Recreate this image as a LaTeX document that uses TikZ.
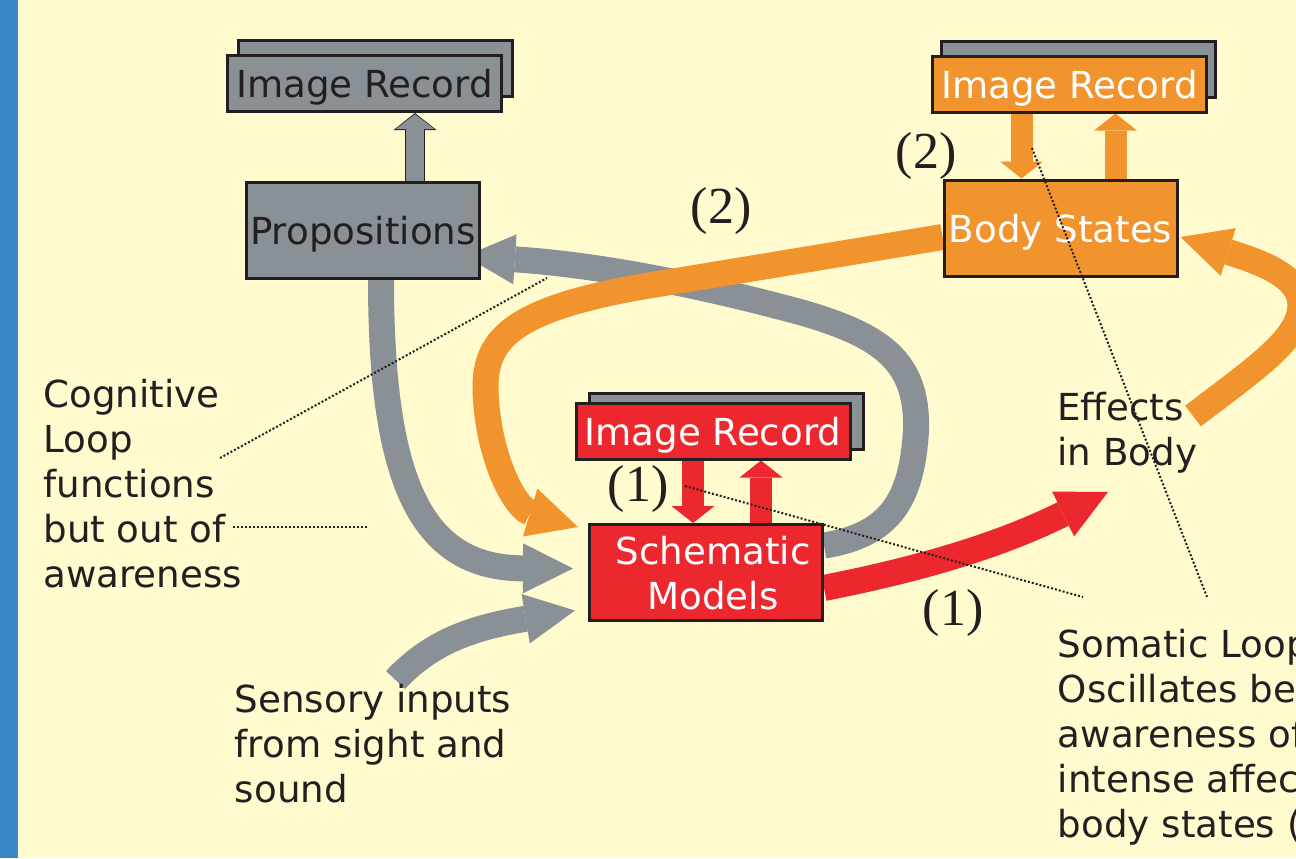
\documentclass[tikz,border=0pt]{standalone}
\usepackage{fontspec}
\setmainfont{DejaVu Sans}
\newfontfamily\numfont{Liberation Serif}
\usetikzlibrary{arrows.meta}

\pgfdeclarelayer{paper}
\pgfdeclarelayer{flows}
\pgfsetlayers{paper,flows,main}

\definecolor{bgyellow}{RGB}{255,251,206}
\definecolor{sidebar}{RGB}{58,135,200}
\definecolor{loopgray}{RGB}{137,144,150}
\definecolor{bodyorange}{RGB}{242,148,46}
\definecolor{schemred}{RGB}{236,40,46}
\definecolor{ink}{RGB}{35,31,32}

\newcommand\labelfont{\fontsize{18.6}{22.5}\selectfont}
\newcommand\tagfont{\numfont\fontsize{26}{30}\selectfont}

\tikzset{
  stage/.style={draw=ink, line width=1.5pt, minimum width=116.5pt,
    minimum height=48pt, inner sep=0pt, text depth=0pt, font=\labelfont},
  record/.style={draw=ink, line width=1.5pt, minimum width=137pt,
    minimum height=28pt, inner sep=0pt, text depth=0pt, font=\labelfont},
  recback/.style={record, fill=loopgray},
  flow/.style={line width=13pt,
    -{Triangle[width=25pt,length=25pt,line width=0pt]}},
  pipe/.style={line width=11pt,
    -{Triangle[width=21.5pt,length=8.5pt,line width=0pt]}},
  pointer/.style={draw=ink, line width=1pt, densely dotted},
  caption/.style={anchor=north west, inner sep=0pt, align=left,
    text=ink, font=\labelfont},
  tag/.style={inner sep=0pt, text=ink, font=\tagfont}
}

\begin{document}
\begin{tikzpicture}[x=0.5pt,y=-0.5pt]
\useasboundingbox (0,0) rectangle (1296,858);
\begin{pgfonlayer}{paper}
  \fill[bgyellow] (0,0) rectangle (1296,858);
  \fill[sidebar] (0,0) rectangle (18,858);
\end{pgfonlayer}

% cognitive side
\node[stage, fill=loopgray, text=ink] (props) at (363,230) {Propositions};
\node[recback] (propsBack) at (375.5,68.5) {};
\node[record, fill=loopgray, text=ink] (propsRec) at (364.5,83.5) {Image Record};

% somatic side
\node[stage, fill=bodyorange, text=white] (body) at (1060.5,228) {Body States};
\node[recback] (bodyBack) at (1078,69.5) {};
\node[record, fill=bodyorange, text=white] (bodyRec) at (1069.5,84) {Image Record};

% schematic models
\node[stage, fill=schemred, text=white, align=center] (schem) at (706,572.5)
  {\hspace*{7pt}Schematic\\\hspace*{7pt}Models};
\node[recback] (schemBack) at (726,421) {};
\node[record, fill=schemred, text=white] (schemRec) at (713,431) {Image Record};

% loop tags
\node[tag] (twoTop) at (926,156) {(2)};
\node[tag] (twoMid) at (721,211) {(2)};
\node[tag] (oneMid) at (638,489) {(1)};
\node[tag] (oneLow) at (953,613) {(1)};

% captions
\node[caption] (cognitive) at (43,379) {Cognitive\\Loop\\functions\\but out of\\awareness};
\node[caption] (sensory) at (234.5,684) {Sensory inputs\\from sight and\\sound};
\node[caption] (effects) at (1057,392) {Effects\\in Body};
\node[caption] (somatic) at (1057.5,629) {Somatic Loop\\Oscillates between\\awareness of\\intense affective\\body states (2)};

\coordinate (effIn) at (1108,492);
\coordinate (effOut) at (1193,416);
\coordinate (grayHit) at (547,278);
\coordinate (grayHit2) at (367,527);

\begin{pgfonlayer}{flows}
  % record <-> state arrows
  \draw[pipe, ink, line width=10pt, -{Triangle[width=21.5pt,length=8.5pt,line width=0pt]}]
    ([shift={(52,0)}]props.north) -- ([shift={(50.5,0)}]propsRec.south);
  \draw[pipe, loopgray, line width=9pt, -{Triangle[width=19.5pt,length=7.5pt,line width=0pt]}, shorten >=0.6pt]
    ([shift={(52,0)}]props.north) -- ([shift={(50.5,0)}]propsRec.south);
  \draw[pipe, bodyorange] ([shift={(-48,0)}]bodyRec.south) -- ([shift={(-39,0)}]body.north);
  \draw[pipe, bodyorange] ([shift={(55,0)}]body.north) -- ([shift={(46,0)}]bodyRec.south);
  \draw[pipe, schemred] ([shift={(-20,0)}]schemRec.south) -- ([shift={(-13,0)}]schem.north);
  \draw[pipe, schemred] ([shift={(55,0)}]schem.north) -- ([shift={(48,0)}]schemRec.south);

  % cognitive loop
  \draw[flow, loopgray] ([shift={(18,0)}]props.south)
    .. controls (381,480) and (420,568) .. ([shift={(-15,-4)}]schem.west);
  \draw[flow, loopgray] ([shift={(161,-4)}]sensory.north west)
    .. controls (430,643) and (470,628) .. ([shift={(-13,38)}]schem.west);
  \draw[flow, loopgray] ([shift={(0,-27)}]schem.east)
    .. controls (890,535) and (912,500) .. (916,430)
    .. controls (918,360) and (880,335) .. (800,312)
    .. controls (700,285) and (600,265) .. ([shift={(-16,26)}]props.east);

  % somatic loop
  \draw[flow, bodyorange] ([shift={(0,9)}]body.west) -- (640,287)
    .. controls (500,312) and (482,345) .. (486,400)
    .. controls (490,460) and (515,508) .. ([shift={(-10,-45.5)}]schem.west);
  \draw[flow, schemred] ([shift={(0,15.5)}]schem.east)
    .. controls (940,565) and (1010,540) .. (effIn);
  \draw[flow, bodyorange] (effOut)
    .. controls (1260,365) and (1305,335) .. (1300,300)
    .. controls (1296,275) and (1260,262) .. ([shift={(2,9)}]body.east);
\end{pgfonlayer}

% dotted pointers
\draw[pointer] ([shift={(177,79)}]cognitive.north west) -- (grayHit);
\draw[pointer] ([shift={(190,148)}]cognitive.north west) -- (grayHit2);
\draw[pointer] ([shift={(47,-3)}]oneMid.center) -- ([shift={(25.5,-32)}]somatic.north west);
\draw[pointer] ([shift={(106,-8)}]twoTop.center) -- ([shift={(149.5,-32)}]somatic.north west);
\end{tikzpicture}
\end{document}
